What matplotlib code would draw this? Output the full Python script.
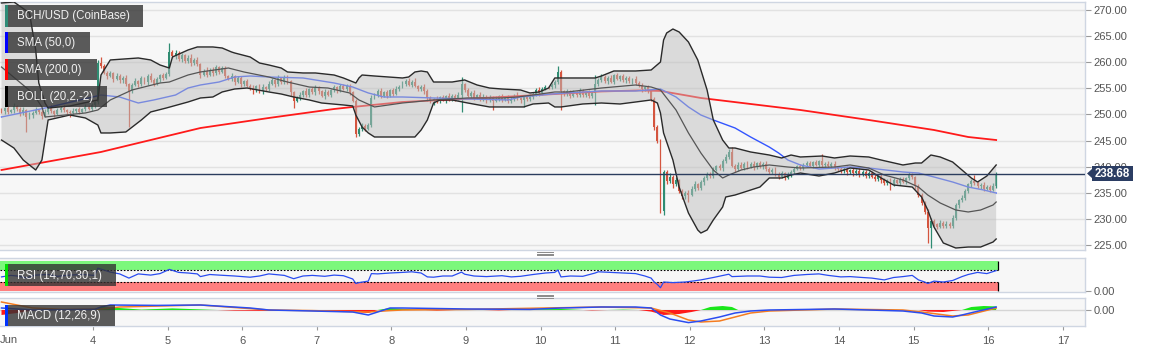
import numpy as np
import matplotlib
matplotlib.use("Agg")
import matplotlib.pyplot as plt
from matplotlib.patches import Rectangle, Polygon

# ---------------- data ----------------
# hourly candles, first one starts at the left edge of the chart
first_open = 250.9
closes = [
    250.6, 251.2, 250.4, 250.9, 251.6, 251.0, 250.2, 250.8, 249.6, 249.9,
    250.3, 250.9, 250.4, 249.7, 250.5, 251.2, 250.6, 250.1, 250.8, 251.3,
    250.8, 250.4, 250.2, 250.6, 251.0, 250.5, 251.0, 251.5, 251.1, 251.8,
    252.3, 259.8, 259.2, 258.0, 257.3, 257.9, 256.8, 257.4, 256.5, 257.0,
    255.8, 254.5, 255.6, 256.4, 255.8, 256.9, 256.2, 257.3, 256.6, 255.9,
    256.8, 257.5, 256.9, 257.8, 262.0, 261.2, 261.8, 260.6, 261.3, 260.2,
    260.9, 259.8, 260.5, 259.6, 257.6, 258.3, 257.6, 258.6, 257.9, 259.0,
    258.2, 258.8, 257.4, 256.8, 257.3, 256.3, 256.9, 255.8, 256.4, 255.5,
    255.1, 254.6, 255.4, 254.5, 255.2, 254.8, 255.9, 256.6, 255.8, 256.9,
    256.2, 257.1, 256.4, 254.2, 252.6, 253.2, 253.8, 254.5, 253.7, 254.8,
    254.2, 255.1, 254.4, 253.6, 254.3, 253.8, 254.6, 255.2, 254.6, 255.5,
    254.9, 255.4, 254.3, 252.6, 246.2, 247.2, 247.8, 247.3, 248.0, 253.2,
    253.8, 254.4, 253.6, 254.2, 253.5, 254.6, 254.0, 254.8, 255.3, 255.9,
    256.4, 255.7, 256.3, 255.5, 254.8, 255.3, 254.5, 253.2, 252.5, 253.0,
    252.6, 253.3, 252.8, 253.5, 252.9, 253.6, 253.1, 253.7, 255.8, 254.6,
    253.6, 254.1, 253.2, 253.8, 252.9, 253.4, 252.7, 253.3, 252.6, 253.0,
    253.5, 252.8, 253.2, 252.5, 253.0, 253.6, 253.1, 252.7, 253.3, 252.9,
    253.4, 253.9, 254.6, 254.1, 254.9, 255.3, 255.2, 255.6, 256.2, 258.2,
    254.4, 253.9, 254.4, 253.6, 254.2, 253.7, 254.5, 253.8, 254.3, 253.5,
    254.1, 255.8, 256.6, 257.2, 256.4, 257.0, 256.3, 257.5, 256.8, 257.3,
    256.5, 257.0, 256.4, 256.8, 256.1, 255.6, 254.8, 255.2, 254.4, 253.0,
    247.6, 245.0, 231.6, 238.9, 237.2, 238.1, 236.6, 237.5, 235.4, 234.3,
    235.0, 234.6, 235.8, 236.6, 235.9, 237.0, 237.8, 238.6, 238.2, 239.4,
    240.1, 239.7, 241.0, 241.8, 242.9, 240.2, 239.5, 240.4, 239.8, 240.6,
    240.0, 240.5, 239.9, 240.7, 240.1, 240.6, 239.5, 238.9, 239.4, 238.6,
    238.1, 238.7, 237.9, 238.5, 239.0, 239.6, 240.1, 239.7, 240.3, 240.7,
    240.2, 240.8, 240.4, 241.0, 240.3, 240.6, 240.1, 240.5, 239.9, 239.5,
    239.1, 239.6, 238.9, 239.3, 238.7, 239.2, 238.5, 239.0, 238.3, 238.8,
    238.1, 237.6, 238.2, 237.4, 236.8, 237.3, 236.6, 237.4, 236.9, 237.6,
    237.1, 237.8, 238.4, 238.0, 236.2, 234.6, 233.0, 231.4, 228.3, 229.6,
    229.0, 228.5, 229.3, 228.7, 229.1, 228.6, 230.2, 232.6, 233.6, 234.0,
    235.3, 236.6, 237.2, 236.8, 236.2, 236.5, 235.8, 236.1, 235.6, 236.3,
    238.68,
]
# upper / lower wick lengths, in tenths of a dollar
wick_up = [
    4, 3, 6, 2, 5, 3, 4, 7, 3, 5,   3, 6, 2, 4, 5, 3, 7, 2, 4, 3,
    5, 2, 4, 6, 3, 4, 2, 5, 3, 4,   3, 6, 12, 4, 3, 5, 2, 6, 3, 4,
    5, 3, 4, 6, 2, 5, 3, 4, 6, 3,   4, 2, 5, 3, 17, 4, 6, 3, 5, 2,
    4, 6, 3, 5, 2, 4, 7, 3, 5, 4,   3, 5, 4, 2, 6, 3, 4, 5, 2, 4,
    3, 5, 2, 4, 6, 3, 5, 4, 2, 6,   3, 4, 5, 2, 3, 4, 5, 2, 6, 3,
    4, 5, 3, 2, 6, 4, 3, 5, 2, 4,   3, 5, 4, 2, 3, 4, 6, 3, 4, 5,
    3, 4, 6, 2, 5, 3, 4, 6, 3, 5,   4, 5, 3, 6, 2, 4, 5, 3, 4, 2,
    5, 3, 4, 2, 6, 3, 4, 5, 13, 3,  4, 3, 5, 2, 4, 6, 3, 4, 2, 5,
    3, 4, 2, 5, 3, 4, 6, 2, 3, 4,   5, 3, 4, 6, 3, 4, 2, 5, 3, 11,
    4, 3, 5, 2, 4, 3, 5, 4, 2, 3,   4, 17, 3, 5, 4, 3, 6, 2, 4, 3,
    5, 3, 4, 2, 5, 3, 4, 3, 4, 2,   3, 4, 2, 5, 4, 6, 3, 5, 2, 4,
    3, 5, 4, 6, 3, 4, 5, 3, 4, 5,   3, 4, 5, 6, 4, 9, 3, 5, 4, 3,
    4, 3, 5, 2, 4, 3, 5, 4, 3, 5,   3, 4, 2, 5, 3, 4, 3, 5, 4, 3,
    4, 3, 5, 2, 14, 3, 4, 3, 5, 2,  4, 3, 5, 2, 4, 3, 5, 4, 3, 4,
    3, 5, 4, 3, 4, 3, 5, 4, 3, 4,   4, 3, 5, 4, 3, 4, 3, 5, 4, 6,
    4, 3, 5, 2, 4, 3, 5, 4, 3, 5,   4, 3, 5, 12, 4, 3, 5, 4, 3, 5,
    3,
]
wick_dn = [
    3, 5, 4, 2, 6, 3, 5, 3, 30, 4,  5, 3, 4, 6, 2, 4, 3, 5, 2, 4,
    3, 5, 6, 4, 3, 5, 2, 4, 3, 4,   5, 3, 4, 3, 6, 2, 5, 3, 4, 5,
    3, 69, 4, 2, 5, 3, 4, 6, 3, 4,  3, 5, 4, 2, 4, 3, 5, 4, 6, 3,
    4, 5, 3, 4, 6, 3, 4, 2, 5, 3,   4, 3, 5, 2, 4, 6, 3, 5, 4, 3,
    5, 6, 3, 4, 5, 3, 4, 2, 5, 3,   4, 3, 5, 6, 14, 3, 4, 5, 3, 4,
    3, 5, 4, 3, 6, 2, 4, 3, 5, 4,   3, 4, 5, 3, 6, 4, 3, 5, 3, 4,
    3, 5, 4, 3, 4, 2, 5, 3, 4, 3,   4, 3, 5, 3, 4, 3, 5, 6, 4, 7,
    5, 4, 3, 6, 4, 3, 5, 3, 32, 4,  3, 4, 5, 3, 4, 3, 5, 4, 18, 3,
    4, 5, 3, 4, 3, 4, 3, 5, 13, 4,  3, 4, 3, 5, 4, 3, 4, 3, 5, 4,
    36, 4, 3, 5, 3, 4, 3, 5, 4, 3,  4, 23, 3, 4, 3, 5, 3, 4, 3, 4,
    3, 4, 3, 5, 4, 3, 5, 4, 3, 5,   6, 5, 4, 9, 5, 4, 6, 3, 5, 4,
    4, 14, 3, 5, 4, 3, 5, 4, 3, 4,  3, 4, 5, 3, 4, 3, 5, 4, 3, 4,
    4, 3, 5, 3, 4, 5, 3, 4, 3, 4,   5, 3, 4, 3, 5, 4, 3, 4, 3, 4,
    3, 4, 3, 5, 3, 4, 3, 4, 5, 3,   4, 3, 5, 3, 4, 3, 4, 3, 5, 4,
    3, 4, 3, 5, 4, 3, 11, 4, 3, 4,  3, 4, 3, 4, 5, 4, 3, 5, 30, 39,
    4, 5, 3, 4, 5, 4, 3, 4, 5, 3,   4, 3, 5, 4, 3, 4, 5, 3, 4, 3,
    4,
]

# indicator readings: hour index of candle -> value
boll_up_h = [0, 4, 9, 11, 12, 14, 15, 22, 31, 32, 35, 44, 48, 51, 54, 55, 60, 63, 68, 71,
             74, 75, 80, 83, 86, 90, 92, 97, 101, 107, 110, 114, 115, 116, 120, 129, 131, 133, 135, 137,
             138, 139, 145, 149, 153, 157, 161, 167, 170, 173, 176, 178, 180, 191, 193, 197, 204, 209, 212, 213,
             214, 216, 218, 221, 224, 227, 229, 232, 234, 236, 241, 247, 251, 254, 257, 264, 268, 273, 279, 283,
             290, 294, 296, 299, 302, 306, 309, 312, 314, 317, 320]
boll_up = [271.34, 271.53, 269.43, 262.34, 256.02, 252.19, 251.23, 251.62, 252.77, 257.55,
           260.43, 260.81, 260.43, 259.47, 258.89, 261.0, 262.34, 262.92, 262.92, 262.72,
           261.96, 261.77, 261.0, 259.85, 259.47, 258.89, 258.13, 257.94, 257.94, 257.55,
           256.98, 256.02, 256.98, 257.55, 257.36, 256.98, 257.17, 258.13, 258.32, 258.13,
           257.17, 256.21, 256.21, 256.6, 255.64, 255.06, 254.87, 254.68, 254.11, 254.3,
           255.06, 256.98, 256.98, 256.98, 257.36, 258.32, 258.32, 258.51, 260.04, 264.25,
           265.6, 266.36, 265.79, 263.87, 260.43, 254.68, 248.94, 245.1, 243.57, 243.57,
           242.81, 242.23, 241.66, 242.23, 241.85, 242.04, 241.66, 242.04, 241.85, 241.27,
           240.32, 240.7, 240.7, 242.23, 241.85, 240.89, 239.36, 237.83, 237.06, 238.21,
           240.32]
boll_mid_h = [0, 5, 10, 13, 14, 27, 31, 35, 42, 51, 54, 60, 64, 73, 78, 86, 92, 99, 105, 112,
              115, 120, 129, 139, 150, 161, 166, 171, 178, 182, 193, 204, 209, 212, 217, 221, 225, 229, 232, 234,
              238, 242, 247, 253, 257, 268, 273, 279, 284, 290, 295, 298, 302, 307, 311, 315, 319, 320]
boll_mid = [259.08, 256.6, 254.11, 251.43, 249.51, 250.28, 250.85, 252.77, 254.68, 256.02,
            256.21, 257.55, 258.13, 258.89, 258.13, 257.17, 256.21, 255.25, 255.06, 254.11,
            252.77, 251.43, 252.19, 252.77, 253.15, 253.15, 253.34, 253.72, 254.3, 254.3,
            255.06, 255.64, 255.25, 254.68, 250.85, 246.45, 242.62, 239.36, 237.83, 238.4,
            239.36, 239.93, 240.32, 239.93, 239.74, 239.93, 240.32, 239.74, 238.4, 237.45,
            236.1, 234.57, 233.04, 231.7, 231.32, 231.7, 232.66, 233.23]
boll_lo_h = [0, 4, 7, 11, 13, 14, 15, 22, 27, 31, 32, 35, 40, 45, 48, 53, 60, 64, 68, 71,
             75, 79, 86, 90, 94, 99, 103, 110, 113, 114, 116, 118, 120, 129, 133, 135, 137, 139, 141, 145,
             150, 157, 168, 171, 176, 178, 180, 187, 193, 199, 204, 209, 211, 212, 213, 216, 218, 221, 224, 225,
             227, 229, 232, 233, 236, 239, 244, 247, 251, 254, 257, 263, 268, 273, 279, 283, 287, 293, 296, 298,
             300, 303, 307, 311, 315, 319, 320]
boll_lo = [245.1, 243.57, 241.27, 239.36, 241.27, 245.1, 248.94, 249.89, 249.32, 247.97,
           246.45, 246.45, 246.64, 248.94, 250.47, 251.23, 252.38, 253.15, 253.34, 254.3,
           254.87, 255.06, 254.3, 253.91, 253.34, 252.77, 252.19, 251.81, 251.62, 249.89,
           247.59, 246.45, 245.68, 245.68, 245.68, 247.02, 248.94, 252.19, 252.77, 252.77,
           252.19, 251.43, 251.43, 252.0, 252.19, 251.43, 251.43, 252.0, 252.19, 252.0,
           252.38, 252.77, 252.19, 250.28, 246.45, 241.27, 236.1, 231.12, 227.87, 227.29,
           227.87, 229.79, 232.27, 234.19, 234.57, 235.14, 236.1, 237.83, 237.83, 238.4,
           238.78, 238.21, 238.78, 239.74, 239.36, 237.83, 236.49, 236.1, 234.19, 231.7,
           228.44, 225.38, 224.42, 224.61, 224.61, 225.57, 226.15]
sma50_h = [0, 14, 28, 32, 38, 44, 49, 56, 60, 64, 70, 75, 80, 86, 97, 107, 113, 118, 123, 129,
           139, 150, 163, 167, 177, 182, 193, 204, 212, 217, 221, 225, 229, 236, 241, 247, 250, 253, 257, 263,
           268, 273, 279, 290, 295, 300, 306, 311, 316, 320]
sma50 = [249.51, 251.23, 253.15, 253.72, 253.34, 252.19, 252.77, 253.72, 255.06, 255.64,
         256.21, 257.17, 257.36, 257.17, 256.98, 256.02, 255.25, 254.11, 253.34, 253.34,
         253.15, 252.96, 252.77, 253.34, 253.91, 254.11, 254.49, 254.49, 254.87, 253.34,
         251.43, 249.89, 248.94, 247.4, 245.68, 243.76, 242.62, 241.27, 240.32, 239.55,
         239.74, 239.93, 239.74, 238.98, 238.78, 238.02, 237.06, 236.1, 235.53, 234.95]
sma200_h = [0, 32, 64, 86, 107, 113, 129, 161, 193, 205, 212, 225, 257, 279, 300, 311, 320]
sma200 = [239.36, 242.81, 247.4, 249.32, 251.04, 251.43, 252.38, 253.34, 254.4, 254.6,
          254.5, 253.15, 250.85, 248.94, 247.02, 245.68, 245.1]

rsi_h = [0, 3, 5, 8, 11, 15, 18, 22, 26, 30, 31, 32, 35, 38, 41, 44, 48, 51, 54, 57,
         60, 63, 64, 67, 70, 75, 80, 83, 86, 91, 94, 97, 100, 104, 107, 110, 113, 114, 115, 118,
         119, 121, 125, 129, 132, 135, 137, 139, 142, 145, 148, 149, 152, 156, 161, 164, 167, 171, 175, 178,
         179, 180, 183, 187, 191, 192, 196, 200, 204, 207, 209, 210, 211, 212, 213, 216, 220, 223, 225, 229,
         234, 235, 240, 244, 247, 251, 255, 259, 263, 266, 270, 273, 277, 280, 284, 287, 290, 293, 295, 297,
         298, 300, 303, 306, 309, 311, 314, 317, 320]
rsi = [47, 52, 50, 44, 53, 55, 49, 53, 55, 52, 76, 73, 63, 57, 43, 57, 53, 58, 72, 62,
       60, 57, 48, 55, 53, 50, 46, 50, 57, 52, 41, 50, 52, 49, 53, 51, 40, 25, 28, 33,
       58, 57, 60, 62, 64, 60, 47, 46, 50, 50, 63, 56, 50, 48, 51, 47, 49, 55, 60, 62,
       70, 47, 50, 49, 60, 64, 62, 60, 58, 50, 43, 30, 22, 11, 30, 28, 30, 34, 37, 45,
       56, 48, 50, 50, 46, 45, 52, 55, 57, 52, 47, 48, 45, 43, 37, 45, 48, 52, 37, 30,
       25, 33, 30, 35, 48, 55, 62, 58, 68]

macd_h = [0, 10, 30, 32, 35, 50, 64, 80, 86, 100, 113, 118, 125, 129, 150, 170, 180, 193, 204, 209,
          212, 215, 221, 225, 231, 236, 241, 247, 268, 290, 296, 300, 306, 309, 313, 320]
macd = [1.0, 0, 0.3, 1.5, 2.5, 2.3, 2.5, 1.0, 0, -0.5, -1.0, -2.5, 1.0, 1.0, 0.5, 0.3, 1.0, 1.5, 1.5, 1.0,
        -2.5, -4.5, -6.3, -5.5, -3.5, -1.5, -0.5, 0, 0.5, -0.5, -1.5, -3.0, -3.5, -2.5, -1.0, 1.5]
signal_h = [0, 10, 20, 32, 38, 64, 86, 100, 118, 125, 129, 150, 193, 209, 215, 221, 225, 231, 236, 241,
            247, 268, 290, 296, 306, 311, 320]
signal = [4.0, 1.0, 0.3, 0.5, 1.5, 2.5, 0, -0.3, -1.0, -0.3, 0, 0.3, 1.5, 1.0, -1.5, -5.0, -6.0, -5.5, -3.5, -1.5,
          -0.5, 0.5, 0, -1.0, -3.0, -2.5, 1.0]
hist_h = [0, 5, 11, 14, 30, 32, 38, 45, 55, 64, 75, 90, 100, 110, 114, 118, 121, 125, 130, 140,
          150, 160, 170, 180, 190, 200, 205, 209, 213, 218, 222, 225, 228, 232, 235, 237, 247, 260, 270, 283,
          290, 295, 298, 303, 307, 309, 312, 316, 320]
hist = [-2.5, -1.5, 0, 0.3, 0.3, 1.5, 1.0, 0.2, 0.8, 0.3, -0.3, -0.5, -0.3, -0.6, -1.0, -1.5, 0, 1.0, 0.5, -0.3,
        0.2, -0.2, 0.3, 0.5, -0.2, 0.2, 0, -0.8, -2.5, -2.0, -1.0, 0, 1.5, 2.0, 1.5, 0, 0, 0.2, 0, 0.2,
        0, 0, -0.8, -1.0, -0.3, 0, 1.5, 2.0, 1.8]

last_price = 238.68
price_ticks = [225, 230, 235, 240, 245, 250, 255, 260, 265, 270]
day_ticks = [4, 5, 6, 7, 8, 9, 10, 11, 12, 13, 14, 15, 16, 17]
month_label = "Jun"
legend_labels = ["BCH/USD (CoinBase)", "SMA (50,0)", "SMA (200,0)", "BOLL (20,2,-2)"]
rsi_label = "RSI (14,70,30,1)"
macd_label = "MACD (12,26,9)"
rsi_low, rsi_high = 30, 70

# ---------------- layout ----------------
plt.rcParams['font.family'] = ['Liberation Sans', 'DejaVu Sans']
W, H = 1153, 351
PLOT_R = 1085
PX_PER_DAY = 74.6
X_LEFT = 2.7534
T0 = 2.7735           # centre of the first hourly candle (days)

UP_C, DN_C = '#2f8c72', '#d4553f'
BG = '#f7f7f7'
SPINE = '#cfd6e2'
TXT = '#555555'

fig = plt.figure(figsize=(W / 100, H / 100), dpi=100)
fig.patch.set_facecolor('white')


def frac(x0, y0, x1, y1):
    return [x0 / W, 1 - y1 / H, (x1 - x0) / W, (y1 - y0) / H]


def tt(h):
    return T0 + np.asarray(h, dtype=float) / 24.0


ax = fig.add_axes(frac(0, 2, PLOT_R, 250))
ax_rsi = fig.add_axes(frac(0, 258, PLOT_R, 292))
ax_macd = fig.add_axes(frac(0, 298, PLOT_R, 326))
xlim = (X_LEFT, X_LEFT + PLOT_R / PX_PER_DAY)

for a in (ax, ax_rsi, ax_macd):
    a.set_facecolor(BG)
    a.set_xlim(*xlim)
    for s in ('top', 'bottom', 'right'):
        a.spines[s].set_color(SPINE)
        a.spines[s].set_linewidth(1)
    a.spines['left'].set_visible(False)
    a.yaxis.tick_right()
    a.tick_params(axis='y', length=4, width=0.8, color='#9a9a9a', labelcolor=TXT,
                  labelsize=8, pad=2)
    a.tick_params(axis='x', length=0, labelbottom=False)

# ---------------- main price panel ----------------
ax.set_ylim(224.04, 271.53)
ax.set_yticks(price_ticks)
ax.set_yticklabels([f"{v:.2f}" for v in price_ticks])
for v in price_ticks:
    ax.axhline(v, color='#e2e2e2', lw=1, zorder=0)

n = len(closes)
opens = [first_open] + closes[:-1]
t = tt(np.arange(n))
bw = 0.62 / 24
for i in range(n):
    o, c = opens[i], closes[i]
    hi = max(o, c) + wick_up[i] / 10.0
    lo = min(o, c) - wick_dn[i] / 10.0
    col = UP_C if c >= o else DN_C
    ax.vlines(t[i], lo, hi, color=col, lw=0.9, zorder=2)
    body = max(abs(c - o), 0.12)
    ax.bar(t[i], body, bottom=min(o, c), width=bw, color=col, lw=0, zorder=2)

ax.plot(tt(sma200_h), sma200, color='#ff1a1a', lw=1.3, zorder=2.5)
ax.plot(tt(sma50_h), sma50, color='#3355ff', lw=1.0, zorder=2.5)

band = np.vstack([np.column_stack([tt(boll_up_h), boll_up]),
                  np.column_stack([tt(boll_lo_h), boll_lo])[::-1]])
ax.add_patch(Polygon(band, closed=True, facecolor='#bebebe', alpha=0.5, lw=0, zorder=3))
ax.plot(tt(boll_up_h), boll_up, color='#2a2a2a', lw=1.0, zorder=3.5)
ax.plot(tt(boll_lo_h), boll_lo, color='#2a2a2a', lw=1.0, zorder=3.5)
ax.plot(tt(boll_mid_h), boll_mid, color='#555555', lw=0.9, zorder=3.5)

ax.axhline(last_price, color='#2b3d5e', lw=1.0, zorder=4)

# ---------------- RSI panel ----------------
ax_rsi.set_ylim(-3.33, 110)
ax_rsi.set_yticks([0])
ax_rsi.set_yticklabels(["0.00"])
x_end = tt(n - 1) + 0.45 / 24
ax_rsi.fill_between([xlim[0], x_end], rsi_high, 100, color='#7cf87c', lw=0, zorder=1)
ax_rsi.fill_between([xlim[0], x_end], 0, rsi_low, color='#ff7f7f', lw=0, zorder=1)
ax_rsi.hlines([rsi_high, rsi_low], xlim[0], x_end, colors='black', linestyles=(0, (1.5, 1.5)),
              lw=0.8, zorder=2)
ax_rsi.vlines(x_end, rsi_high, 100, color='black', lw=0.9, zorder=2)
ax_rsi.vlines(x_end, 0, rsi_low, color='black', lw=0.9, zorder=2)
ax_rsi.plot(tt(rsi_h), rsi, color='#2a4cf0', lw=0.9, zorder=3)

# ---------------- MACD panel ----------------
ax_macd.set_ylim(-8, 6)
ax_macd.set_yticks([0])
ax_macd.set_yticklabels(["0.00"])
ax_macd.axhline(0, color='#d5d5d5', lw=1, zorder=0)
hx = tt(hist_h)
hv = np.asarray(hist)
ax_macd.fill_between(hx, 0, hv, where=hv >= 0, interpolate=True, color='#19e619', lw=0, zorder=1)
ax_macd.fill_between(hx, 0, hv, where=hv <= 0, interpolate=True, color='#ff1a1a', lw=0, zorder=1)
ax_macd.plot(tt(signal_h), signal, color='#f57c20', lw=1.1, zorder=2)
ax_macd.plot(tt(macd_h), macd, color='#2a4cf0', lw=1.1, zorder=3)

ax_macd.set_xticks(day_ticks)
ax_macd.set_xticklabels([str(d) for d in day_ticks])
ax_macd.tick_params(axis='x', length=3, width=0.8, color='#9a9a9a', labelbottom=True,
                    labelsize=8, labelcolor=TXT, pad=4)


# ---------------- overlays in pixel coordinates ----------------
def px_rect(x0, y0, x1, y1, **kw):
    fig.add_artist(Rectangle((x0 / W, 1 - y1 / H), (x1 - x0) / W, (y1 - y0) / H,
                             transform=fig.transFigure, **kw))


def px_text(x, y, s, **kw):
    fig.text(x / W, 1 - y / H, s, **kw)


fig.text(9 / W, 1 - 340 / H, month_label, ha='center', va='center', fontsize=8, color=TXT)

boxes = [(5, 5, 143, 27, '#2e8b77'), (5, 32, 90, 53, '#0000ff'),
         (5, 59, 97, 80, '#ff0000'), (5, 86, 107, 107, '#000000'),
         (5, 264, 116, 286, '#00e000'), (5, 305, 115, 326, '#0033ff')]
labels = legend_labels + [rsi_label, macd_label]
for (x0, y0, x1, y1, col), lab in zip(boxes, labels):
    px_rect(x0, y0, x1, y1, facecolor='#333333', alpha=0.8, lw=0, zorder=10)
    px_rect(x0, y0, x0 + 2.5, y1, facecolor=col, lw=0, zorder=11)
    px_text(17, (y0 + y1) / 2 + 0.5, lab, ha='left', va='center', fontsize=8.3,
            color='#f0f0f0', zorder=12)

# last-price marker on the right axis
px_rect(1092, 166, 1133, 181, facecolor='#2b3d63', lw=0, zorder=10)
fig.add_artist(Polygon([(1087 / W, 1 - 173.5 / H), (1092.5 / W, 1 - 168.5 / H),
                        (1092.5 / W, 1 - 178.5 / H)], closed=True, transform=fig.transFigure,
                       facecolor='#2b3d63', lw=0, zorder=10))
px_rect(PLOT_R, 173.5, 1088, 174.5, facecolor='#2b3d63', lw=0, zorder=10)
px_text(1112.5, 173.8, f"{last_price:.2f}", ha='center', va='center', fontsize=8.3,
        fontweight='bold', color='white', zorder=12)

# panel drag handles
for yc in (253.5, 296.0):
    for dy in (-1.5, 0, 1.5):
        fig.add_artist(plt.Line2D([537 / W, 553 / W], [1 - (yc + dy) / H] * 2,
                                  transform=fig.transFigure, color='#8a8a8a', lw=0.7))

fig.savefig('out.png', dpi=100, facecolor='white')
